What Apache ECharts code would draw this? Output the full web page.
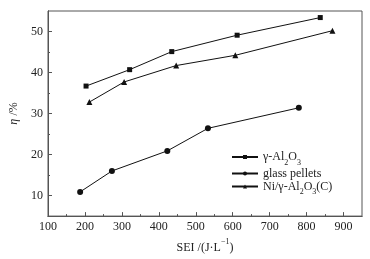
<!DOCTYPE html>
<html><head><meta charset="utf-8">
<script src="https://cdn.jsdelivr.net/npm/echarts@6/dist/echarts.min.js"></script>
<style>html,body{margin:0;padding:0;background:#fff}#c{width:370px;height:259px}</style>
</head><body><div id="c"></div>
<script>
const seriesNames = ['γ-Al2O3', 'glass pellets', 'Ni/γ-Al2O3(C)'];
const alX = [203, 321, 435, 612, 837];
const alY = [36.7, 40.7, 45.1, 49.1, 53.4];
const glassX = [187, 273, 423, 533, 779];
const glassY = [10.9, 16.0, 20.9, 26.4, 31.4];
const niX = [212, 306, 447, 607, 870];
const niY = [32.8, 37.7, 41.7, 44.2, 50.2];
const xMajorTicks = [100, 200, 300, 400, 500, 600, 700, 800, 900];
const xMinorTicks = [150, 250, 350, 450, 550, 650, 750, 850];
const yMajorTicks = [10, 20, 30, 40, 50];
const yMinorTicks = [15, 25, 35, 45];

const zip = (a, b) => a.map((v, i) => [v, b[i]]);
const font = 'Liberation Serif';
const axisColor = '#555';
const txt = '#222';
const rich = {
  n: {fontFamily: font, fontSize: 12, color: txt, lineHeight: 13},
  s: {fontFamily: font, fontSize: 8, color: txt, lineHeight: 13, verticalAlign: 'bottom', padding: [0,0,-3,0]}
};
function legendFmt(name) {
  if (name === 'γ-Al2O3') return '{n|γ-Al}{s|2}{n|O}{s|3}';
  if (name === 'Ni/γ-Al2O3(C)') return '{n|Ni/γ-Al}{s|2}{n|O}{s|3}{n|(C)}';
  return '{n|' + name + '}';
}
const chart = echarts.init(document.getElementById('c'), null, {renderer: 'canvas'});
const mkX = (ticks, len, labels) => ({
  type: 'value', min: 100, max: 950, interval: 50,
  position: 'bottom',
  axisLine: {show: true, lineStyle: {color: axisColor, width: 1}},
  axisTick: {show: true, inside: true, length: len, customValues: ticks, lineStyle: {color: axisColor}},
  axisLabel: labels ? {show: true, customValues: xMajorTicks, fontFamily: font, fontSize: 12, color: txt, margin: 5} : {show: false},
  splitLine: {show: false}
});
const mkY = (ticks, len, labels) => ({
  type: 'value', min: 5, max: 55, interval: 5,
  position: 'left',
  axisLine: {show: true, lineStyle: {color: axisColor, width: 1}},
  axisTick: {show: true, inside: true, length: len, customValues: ticks, lineStyle: {color: axisColor}},
  axisLabel: labels ? {show: true, customValues: yMajorTicks, fontFamily: font, fontSize: 12, color: txt, margin: 5} : {show: false},
  splitLine: {show: false}
});
const xa = mkX(xMajorTicks, 4, true);
xa.name = '{n|SEI /(J·L}{u|−1}{n|)}';
xa.nameLocation = 'middle';
xa.nameGap = 24;
xa.nameTextStyle = {rich: {n: {fontFamily: font, fontSize: 12, color: txt}, u: {fontFamily: font, fontSize: 8, color: txt, verticalAlign: 'top', padding: [-4,0,0,0]}}};
const ya = mkY(yMajorTicks, 4, true);
ya.name = '{i|η} {n|/%}';
ya.nameLocation = 'middle';
ya.nameGap = 28;
ya.nameTextStyle = {rich: {i: {fontFamily: font, fontSize: 12, fontStyle: 'italic', color: txt}, n: {fontFamily: font, fontSize: 12, color: txt}}};
const xb = mkX(xMinorTicks, 2, false);
const yb = mkY(yMinorTicks, 2, false);
const lineStyle = {color: '#111', width: 1};
const itemStyle = {color: '#111'};
chart.setOption({
  animation: false,
  backgroundColor: '#fff',
  grid: {left: 46, right: 8, top: 11, bottom: 41, show: true, borderColor: axisColor, borderWidth: 1},
  legend: {
    left: 226, top: 146, orient: 'vertical', itemGap: 1,
    itemWidth: 26, itemHeight: 5,
    data: seriesNames,
    formatter: legendFmt,
    textStyle: {rich: rich, fontFamily: font, fontSize: 12, color: txt},
    selectedMode: false
  },
  xAxis: [xa, xb],
  yAxis: [ya, yb],
  series: [
    {name: seriesNames[0], type: 'line', data: zip(alX, alY), symbol: 'rect', symbolSize: 5, lineStyle, itemStyle},
    {name: seriesNames[1], type: 'line', data: zip(glassX, glassY), symbol: 'circle', symbolSize: 6, lineStyle, itemStyle},
    {name: seriesNames[2], type: 'line', data: zip(niX, niY), symbol: 'triangle', symbolSize: 6, lineStyle, itemStyle}
  ]
});
</script></body></html>
